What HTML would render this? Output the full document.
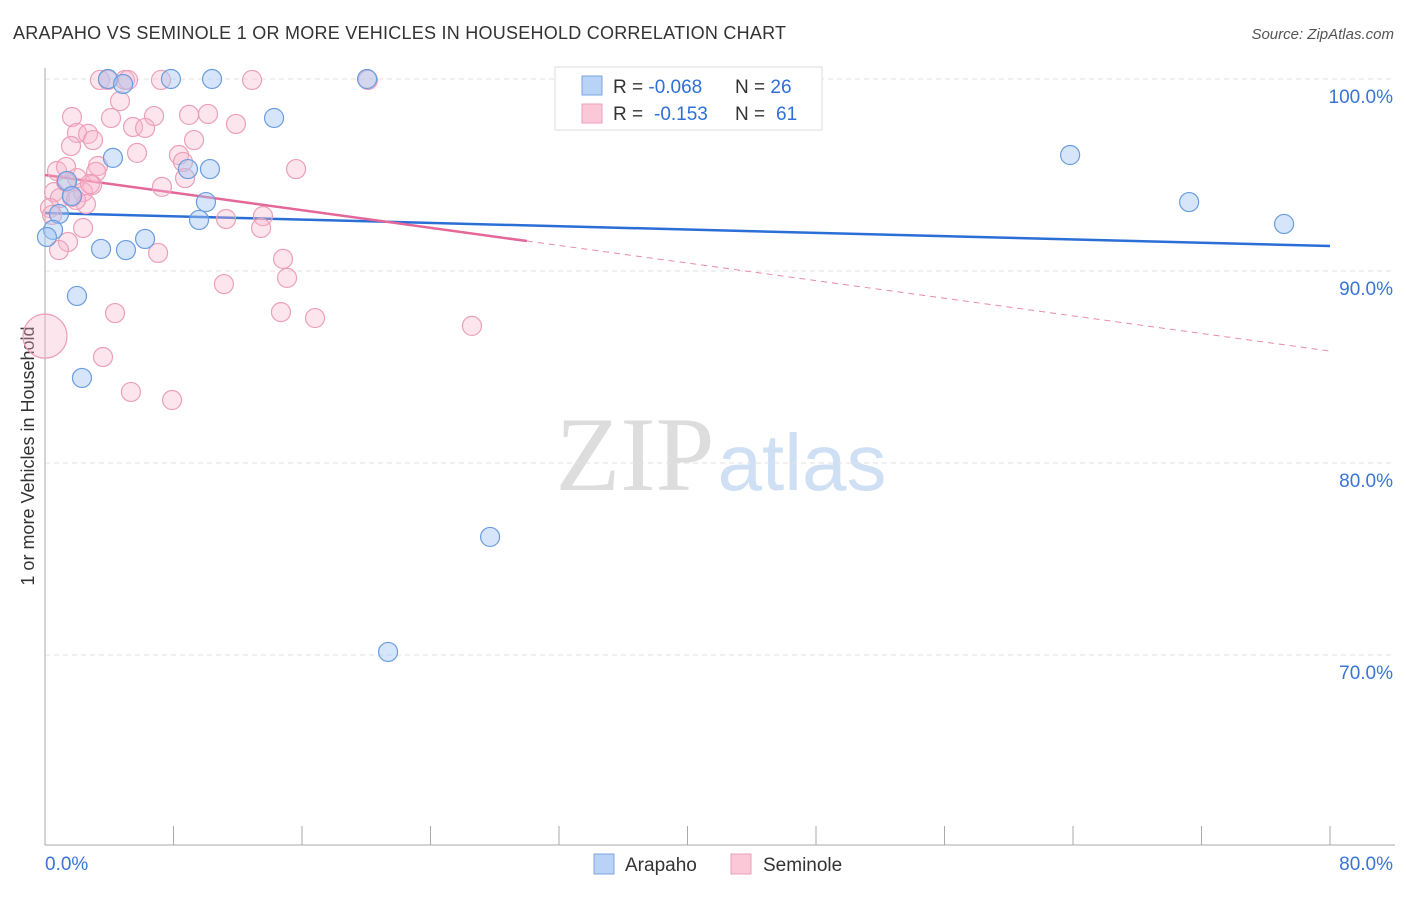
<!DOCTYPE html>
<html><head><meta charset="utf-8"><style>
body{margin:0;background:#fff;font-family:"Liberation Sans",sans-serif;}
svg text{font-family:"Liberation Sans",sans-serif;}
</style></head><body>
<svg id="chart" width="1406" height="892">
<text x="13" y="39" font-size="18" fill="#333" textLength="773">ARAPAHO VS SEMINOLE 1 OR MORE VEHICLES IN HOUSEHOLD CORRELATION CHART</text>
<text x="1394" y="39" font-size="15" fill="#555" font-style="italic" text-anchor="end">Source: ZipAtlas.com</text>
<g>
<text x="635" y="490" font-size="106" fill="#ddd" text-anchor="middle" font-family="Liberation Serif" style="font-family:'Liberation Serif',serif">ZIP</text>
<text x="802" y="490" font-size="80" fill="#cfe0f5" text-anchor="middle">atlas</text>
</g>
<text transform="translate(34,456) rotate(-90)" font-size="18" fill="#333" text-anchor="middle">1 or more Vehicles in Household</text>
<g id="grid"></g><g id="axes"></g><g id="lines"></g><g id="pts"></g>
<g>
<rect x="555" y="67" width="267" height="63" fill="#fff" stroke="#ddd"/>
<rect x="582" y="76" width="20" height="19" fill="#b8d3f5" stroke="#7aa6e0"/>
<rect x="582" y="104" width="20" height="19" fill="#fbc8d8" stroke="#eba0b8"/>
<text x="613" y="93" font-size="19" fill="#333">R = <tspan fill="#2f6fd6">-0.068</tspan><tspan x="735">N = </tspan><tspan fill="#2f6fd6">26</tspan></text>
<text x="613" y="120" font-size="19" fill="#333">R = <tspan fill="#2f6fd6" x="654">-0.153</tspan><tspan x="735">N = </tspan><tspan fill="#2f6fd6" x="776">61</tspan></text>
</g>
<g>
<rect x="594" y="854" width="20" height="20" fill="#b8d3f5" stroke="#7aa6e0"/>
<text x="625" y="871" font-size="19" fill="#333">Arapaho</text>
<rect x="731" y="854" width="20" height="20" fill="#fbc8d8" stroke="#eba0b8"/>
<text x="763" y="871" font-size="19" fill="#333">Seminole</text>
</g>
</svg>
<script>
const yTicks=[100,90,80,70];
const yTickLabels=["100.0%","90.0%","80.0%","70.0%"];
const xTickLabels=["0.0%","80.0%"];
const blueX=[3.92,7.84,10.40,20.05,4.86,14.26,4.23,63.82,8.90,10.27,1.37,1.68,10.02,71.23,0.87,9.59,77.14,0.50,0.12,6.23,3.49,5.04,1.99,2.30,27.71,21.36];
const blueY=[100,100,100,100,99.74,97.97,95.89,96.04,95.31,95.31,94.69,93.91,93.59,93.59,92.97,92.66,92.45,92.14,91.77,91.67,91.15,91.09,88.70,84.43,76.15,70.16];
const pinkX=[3.42,3.92,4.98,5.17,7.22,12.89,20.11,4.67,1.68,4.11,8.97,10.15,6.79,11.89,5.48,6.23,1.99,2.68,2.99,1.62,9.28,5.73,8.34,8.59,8.72,3.30,3.18,0.75,1.31,15.63,1.99,2.93,7.28,2.37,0.56,0.93,1.68,2.55,0.31,11.27,13.57,13.45,1.43,2.37,0.87,7.04,14.82,15.07,11.14,4.36,14.69,16.81,3.61,5.35,7.91,0,26.58,1.31,2.80,1.93,0.44];
const pinkY=[99.95,99.95,99.95,99.95,99.95,99.95,99.95,98.85,98.02,97.97,98.13,98.18,98.07,97.66,97.50,97.45,97.19,97.14,96.82,96.51,96.82,96.15,96.04,95.68,94.84,95.47,95.16,95.21,95.42,95.31,94.84,94.48,94.38,94.11,94.11,93.80,93.85,93.49,93.28,92.71,92.86,92.24,91.51,92.24,91.09,90.94,90.63,89.64,89.32,87.81,87.86,87.55,85.52,83.70,83.28,86.61,87.14,94.64,94.53,93.70,92.92];
const pinkBig=[55];
const blueTrend=[93.02,91.30];
const pinkTrend=[95.0,85.83];
const pinkSolidEnd=30.0;

const NS="http://www.w3.org/2000/svg";
const X=v=>45+v/80*1285;
const Y=v=>79+(100-v)*19.2;
function mk(tag,attrs,parent){const e=document.createElementNS(NS,tag);for(const k in attrs)e.setAttribute(k,attrs[k]);document.getElementById(parent).appendChild(e);return e;}
yTicks.forEach((t,i)=>{
  const l=mk('line',{x1:45,x2:1395,y1:Y(t),y2:Y(t),stroke:'#e2e2e2','stroke-dasharray':'5,4'},'grid');
  
  
  const tx=mk('text',{x:1393,y:Y(t)+24,'font-size':19,fill:'#3a74d4','text-anchor':'end'},'grid');
  tx.textContent=yTickLabels[i];
  
  
});
mk('line',{x1:45,x2:45,y1:68,y2:845,stroke:'#aaa'},'axes');
const xa=mk('line',{x1:45,x2:1395,y1:845,y2:845,stroke:'#aaa'},'axes');


for(let i=0;i<=10;i++){mk('line',{x1:X(i*8),x2:X(i*8),y1:826,y2:845,stroke:'#aaa'},'axes');}
const xl0=mk('text',{x:45,y:870,'font-size':19,fill:'#3a74d4'},'axes');xl0.textContent=xTickLabels[0];


const xl1=mk('text',{x:1393,y:870,'font-size':19,fill:'#3a74d4','text-anchor':'end'},'axes');xl1.textContent=xTickLabels[1];


pinkX.forEach((x,i)=>{
  const r=pinkBig.includes(i)?22:9.5;
  const c=mk('circle',{cx:X(x),cy:Y(pinkY[i]),r:r,fill:'rgba(248,180,202,0.35)',stroke:'#eba0b8','stroke-width':1.2},'pts');
  
  
});
blueX.forEach((x,i)=>{
  const c=mk('circle',{cx:X(x),cy:Y(blueY[i]),r:9.5,fill:'rgba(165,198,242,0.45)',stroke:'#6a9de0','stroke-width':1.2},'pts');
  
  
});
const pAt=x=>pinkTrend[0]+(pinkTrend[1]-pinkTrend[0])*x/80;
const bl=mk('line',{x1:X(0),y1:Y(blueTrend[0]),x2:X(80),y2:Y(blueTrend[1]),stroke:'#2a6fd6','stroke-width':2.5},'lines');


const ps=mk('line',{x1:X(0),y1:Y(pAt(0)),x2:X(pinkSolidEnd),y2:Y(pAt(pinkSolidEnd)),stroke:'#e4679a','stroke-width':2.5},'lines');


const pd=mk('line',{x1:X(pinkSolidEnd),y1:Y(pAt(pinkSolidEnd)),x2:X(80),y2:Y(pAt(80)),stroke:'#e88aae','stroke-width':1,'stroke-dasharray':'6,5'},'lines');


</script>
</body></html>
